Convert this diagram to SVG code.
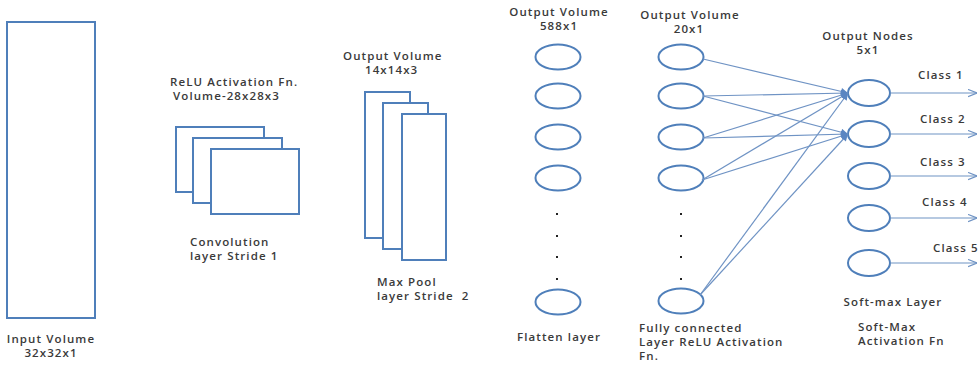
<svg xmlns="http://www.w3.org/2000/svg" width="979" height="370" viewBox="0 0 979 370">
<defs>
<style>
.box{fill:#fff;stroke:#4f7fba;stroke-width:2}
.node{fill:#fff;stroke:#4f7fba;stroke-width:2}
.t{font-family:"Open Sans","Liberation Sans",sans-serif;font-size:11.5px;font-weight:600;fill:#3a3a3a;letter-spacing:1.1px}
.c{text-anchor:middle}
.link{stroke:#6f93c4;stroke-width:1.2;fill:none}
.dot{fill:#222}
</style>
<marker id="fa" viewBox="0 0 10 10" refX="10" refY="5" markerWidth="9" markerHeight="7" markerUnits="userSpaceOnUse" orient="auto">
<path d="M0,0 L10,5 L0,10 z" fill="#5b86c2"/>
</marker>
<marker id="oa" viewBox="0 0 10 10" refX="10" refY="5" markerWidth="9" markerHeight="9" markerUnits="userSpaceOnUse" orient="auto">
<path d="M0,1 L10,5 L0,9" fill="none" stroke="#6f93c4" stroke-width="1.3"/>
</marker>
</defs>
<rect width="979" height="370" fill="#fff"/>

<g id="input">
<rect class="box" x="7" y="22" width="88" height="296"/>
<text class="t c" x="51" y="343">Input Volume</text>
<text class="t c" x="51" y="357">32x32x1</text>
</g>

<g id="conv">
<text class="t" x="170" y="86">ReLU Activation Fn.</text>
<text class="t" x="173" y="100">Volume-28x28x3</text>
<rect class="box" x="176" y="127" width="88" height="65"/>
<rect class="box" x="193" y="138" width="89" height="65"/>
<rect class="box" x="211" y="149" width="88" height="65"/>
<text class="t" x="190" y="246">Convolution</text>
<text class="t" x="190" y="260">layer Stride 1</text>
</g>

<g id="maxpool">
<text class="t" x="343" y="60">Output Volume</text>
<text class="t" x="365" y="74">14x14x3</text>
<rect class="box" x="365" y="92" width="45" height="146"/>
<rect class="box" x="383" y="103" width="45" height="146"/>
<rect class="box" x="402" y="114" width="44" height="146"/>
<text class="t" x="377" y="286">Max Pool</text>
<text class="t" x="377" y="300" xml:space="preserve">layer Stride  2</text>
</g>

<g id="flatten">
<text class="t c" x="559" y="16">Output Volume</text>
<text class="t c" x="559" y="30">588x1</text>
<ellipse class="node" cx="558" cy="57" rx="22.5" ry="12.5"/>
<ellipse class="node" cx="558" cy="96" rx="22.5" ry="12.5"/>
<ellipse class="node" cx="558" cy="137" rx="22.5" ry="12.5"/>
<ellipse class="node" cx="558" cy="178" rx="22.5" ry="12.5"/>
<rect class="dot" x="556" y="213" width="2" height="2"/>
<rect class="dot" x="556" y="235" width="2" height="2"/>
<rect class="dot" x="556" y="256" width="2" height="2"/>
<rect class="dot" x="556" y="278" width="2" height="2"/>
<ellipse class="node" cx="558" cy="302" rx="22.5" ry="12.5"/>
<text class="t c" x="559" y="341">Flatten layer</text>
</g>

<g id="fc">
<text class="t c" x="690" y="19">Output Volume</text>
<text class="t c" x="689" y="33">20x1</text>
<ellipse class="node" cx="681" cy="57" rx="22.5" ry="12.5"/>
<ellipse class="node" cx="681" cy="96" rx="22.5" ry="12.5"/>
<ellipse class="node" cx="681" cy="137" rx="22.5" ry="12.5"/>
<ellipse class="node" cx="681" cy="178" rx="22.5" ry="12.5"/>
<rect class="dot" x="680" y="213" width="2" height="2"/>
<rect class="dot" x="680" y="235" width="2" height="2"/>
<rect class="dot" x="680" y="256" width="2" height="2"/>
<rect class="dot" x="680" y="278" width="2" height="2"/>
<ellipse class="node" cx="681" cy="301" rx="22.5" ry="12.5"/>
<text class="t" x="639" y="332">Fully connected</text>
<text class="t" x="639" y="346">Layer ReLU Activation</text>
<text class="t" x="639" y="360">Fn.</text>
</g>

<g id="output">
<text class="t c" x="868" y="40">Output Nodes</text>
<text class="t c" x="868" y="54">5x1</text>
<ellipse class="node" cx="869" cy="93" rx="21" ry="13"/>
<ellipse class="node" cx="869" cy="134" rx="21" ry="13"/>
<ellipse class="node" cx="869" cy="176" rx="21" ry="13"/>
<ellipse class="node" cx="869" cy="218" rx="21" ry="13"/>
<ellipse class="node" cx="869" cy="263" rx="21" ry="13"/>
<text class="t" x="918" y="79">Class 1</text>
<text class="t" x="920" y="123">Class 2</text>
<text class="t" x="920" y="166">Class 3</text>
<text class="t" x="922" y="206">Class 4</text>
<text class="t" x="933" y="252">Class 5</text>
<text class="t c" x="893" y="306">Soft-max Layer</text>
<text class="t" x="858" y="331">Soft-Max</text>
<text class="t" x="858" y="345">Activation Fn</text>
</g>

<g id="connectors">
<line class="link" x1="703" y1="59" x2="848" y2="93" marker-end="url(#fa)"/>
<line class="link" x1="703" y1="96" x2="848" y2="93" marker-end="url(#fa)"/>
<line class="link" x1="703" y1="96" x2="848" y2="134" marker-end="url(#fa)"/>
<line class="link" x1="703" y1="138" x2="848" y2="93" marker-end="url(#fa)"/>
<line class="link" x1="703" y1="138" x2="848" y2="134" marker-end="url(#fa)"/>
<line class="link" x1="702" y1="180" x2="848" y2="93" marker-end="url(#fa)"/>
<line class="link" x1="702" y1="180" x2="848" y2="134" marker-end="url(#fa)"/>
<line class="link" x1="700" y1="295" x2="848" y2="93" marker-end="url(#fa)"/>
<line class="link" x1="700" y1="295" x2="848" y2="134" marker-end="url(#fa)"/>
<line class="link" x1="890" y1="93" x2="977" y2="93" marker-end="url(#oa)"/>
<line class="link" x1="890" y1="134" x2="977" y2="134" marker-end="url(#oa)"/>
<line class="link" x1="890" y1="176" x2="977" y2="176" marker-end="url(#oa)"/>
<line class="link" x1="890" y1="218" x2="977" y2="218" marker-end="url(#oa)"/>
<line class="link" x1="890" y1="263" x2="977" y2="263" marker-end="url(#oa)"/>
</g>
</svg>
